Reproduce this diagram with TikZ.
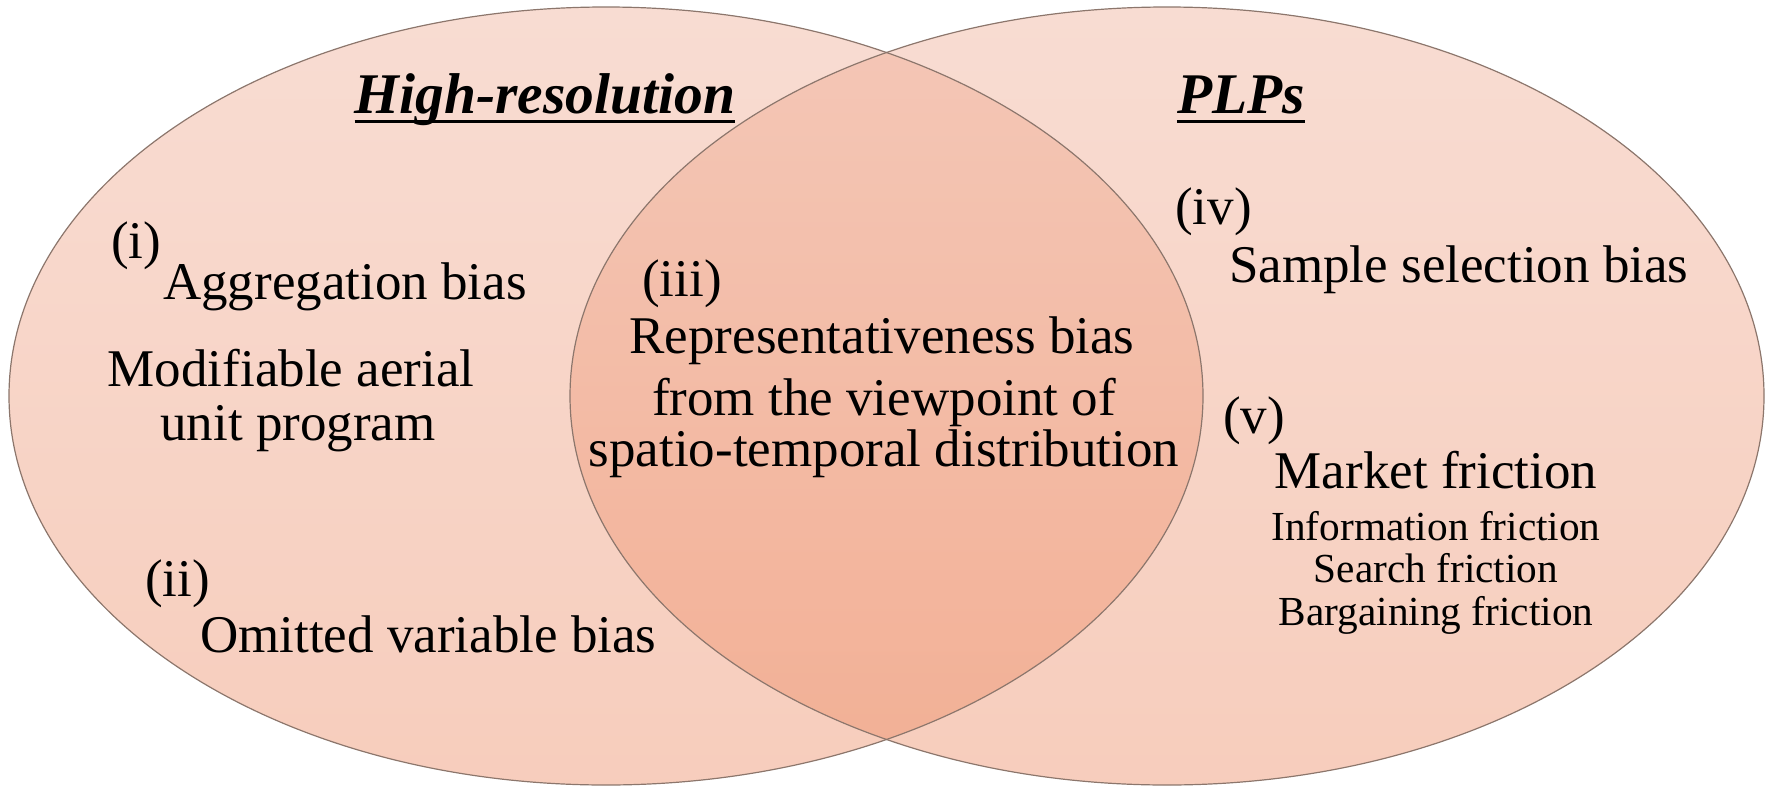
\documentclass[tikz,border=0pt]{standalone}
\usepackage{fontspec}
\setmainfont{Liberation Serif}
\definecolor{setTop}{RGB}{238,168,143}
\definecolor{setBot}{RGB}{235,130,88}
\definecolor{setEdge}{RGB}{140,118,108}
\tikzset{
  setfill/.style={top color=setTop, bottom color=setBot, fill opacity=0.4},
  setedge/.style={draw=setEdge, line width=1.2pt},
  title/.style={inner sep=0pt, font=\fontsize{57.5}{66}\selectfont\bfseries\itshape},
  label/.style={inner sep=0pt, font=\fontsize{53}{62}\selectfont},
  small/.style={inner sep=0pt, font=\fontsize{41.3}{48}\selectfont},
}
\begin{document}
\begin{tikzpicture}[x=1pt, y=-1pt]
\useasboundingbox (0,0) rectangle (1771,787);

% the two overlapping sets
\shade[setfill] (606,396) ellipse [x radius=597, y radius=389];
\shade[setfill] (1167,396) ellipse [x radius=597, y radius=389];
\draw[setedge] (606,396) ellipse [x radius=597, y radius=389];
\draw[setedge] (1167,396) ellipse [x radius=597, y radius=389];

% set titles
\node[title, anchor=base] (hr) at (545,113) {High-resolution};
\node[title, anchor=base] (plps) at (1241,113) {PLPs};
\draw[line width=3pt] ([yshift=-8pt]hr.base west) -- ([yshift=-8pt]hr.base east);
\draw[line width=3pt] ([yshift=-8pt]plps.base west) -- ([yshift=-8pt]plps.base east);

% left set only
\node[label, anchor=base west] (i) at (111,258) {(i)};
\node[label, anchor=base west] (agg) at (163,299) {Aggregation bias};
\node[label, anchor=base] (maup1) at (291,386) {Modifiable aerial};
\node[label, anchor=base] (maup2) at (298,440) {unit program};
\node[label, anchor=base west] (ii) at (145,596) {(ii)};
\node[label, anchor=base west] (omit) at (200,652) {Omitted variable bias};

% intersection
\node[label, anchor=base west] (iii) at (642,296) {(iii)};
\node[label, anchor=base] (rep1) at (882,353) {Representativeness bias};
\node[label, anchor=base] (rep2) at (884,415) {from the viewpoint of};
\node[label, anchor=base] (rep3) at (884,466) {spatio-temporal distribution};

% right set only
\node[label, anchor=base west] (iv) at (1175,224) {(iv)};
\node[label, anchor=base west] (ssb) at (1229,282) {Sample selection bias};
\node[label, anchor=base west] (v) at (1223,433) {(v)};
\node[label, anchor=base] (mf) at (1436,488) {Market friction};
\node[small, anchor=base] (inf) at (1436,540) {Information friction};
\node[small, anchor=base] (sf) at (1436,582) {Search friction};
\node[small, anchor=base] (bf) at (1436,625) {Bargaining friction};
\end{tikzpicture}
\end{document}
